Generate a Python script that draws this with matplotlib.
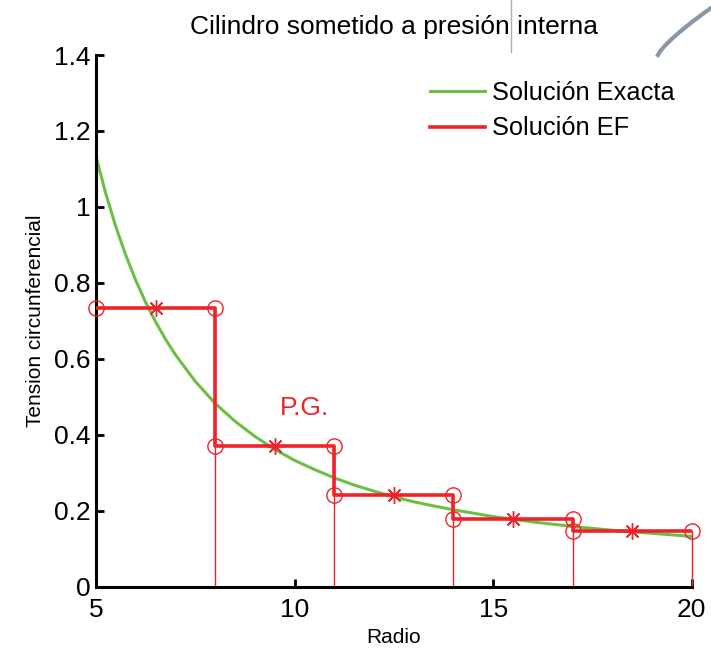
import matplotlib
matplotlib.use('Agg')
import matplotlib.pyplot as plt
from matplotlib.lines import Line2D
import numpy as np

plt.rcParams['font.family'] = ['Liberation Sans', 'DejaVu Sans']

# exact hoop stress sampled along the radius
r_exact = [5, 5.25, 5.5, 5.75, 6, 6.25, 6.5, 6.75, 7, 7.5, 8, 8.5, 9, 9.5, 10,
           10.5, 11, 11.5, 12, 12.5, 13, 13.5, 14, 14.5, 15, 15.5, 16, 16.5,
           17, 17.5, 18, 18.5, 19, 19.5, 20]
s_exact = [1.133, 1.034, 0.948, 0.873, 0.807, 0.749, 0.698, 0.652, 0.611, 0.541,
           0.483, 0.436, 0.396, 0.362, 0.333, 0.309, 0.287, 0.268, 0.252, 0.237,
           0.224, 0.213, 0.203, 0.194, 0.185, 0.178, 0.171, 0.165, 0.159, 0.154,
           0.149, 0.145, 0.141, 0.137, 0.133]

# finite element results: node radii and constant stress per element
nodes = [5, 8, 11, 14, 17, 20]
s_elem = [0.734, 0.372, 0.242, 0.178, 0.147]
gauss_pts = [6.5, 9.5, 12.5, 15.5, 18.5]

green = '#6cbf45'
red = '#ee2229'

fig = plt.figure(figsize=(7.11, 6.55), dpi=100)
ax = fig.add_axes([0.135, 0.104, 0.838, 0.812])

ax.plot(r_exact, s_exact, color=green, lw=2.2, label='Solución Exacta', zorder=2)

# step line for the FE solution
xs, ys = [], []
for i, s in enumerate(s_elem):
    xs += [nodes[i], nodes[i + 1]]
    ys += [s, s]
ax.plot(xs, ys, color=red, lw=2.6, label='Solución EF', zorder=3)

# thin verticals from the axis up to each node value
for i, x in enumerate(nodes):
    if i == 0:
        top = s_elem[0]
    elif i == len(s_elem):
        top = s_elem[-1]
    else:
        top = max(s_elem[i - 1], s_elem[i])
    ax.plot([x, x], [0, top], color=red, lw=1.0, zorder=2, clip_on=False)

# circles at element ends
for i, s in enumerate(s_elem):
    ax.plot([nodes[i], nodes[i + 1]], [s, s], ls='none', marker='o', ms=11,
            mfc='none', mec=red, mew=1.0, zorder=4, clip_on=False)

# asterisks at Gauss points
ax.plot(gauss_pts, s_elem, ls='none', marker=(8, 2, 0), ms=12, color=red,
        mew=1.0, zorder=4)

ax.text(10.25, 0.472, 'P.G.', color=red, fontsize=19, ha='center', va='center')

ax.set_xlim(5, 20)
ax.set_ylim(0, 1.4)
ax.set_xticks([5, 10, 15, 20])
ax.set_xticklabels(['5', '10', '15', '20'])
ax.set_yticks([0, 0.2, 0.4, 0.6, 0.8, 1.0, 1.2, 1.4])
ax.set_yticklabels(['0', '0.2', '0.4', '0.6', '0.8', '1', '1.2', '1.4'])
ax.tick_params(direction='in', length=6, width=2, labelsize=19)
ax.tick_params(axis='x', pad=8)
ax.tick_params(axis='y', pad=4)
for side in ['top', 'right']:
    ax.spines[side].set_visible(False)
for side in ['left', 'bottom']:
    ax.spines[side].set_linewidth(2.2)

ax.set_title('Cilindro sometido a presión interna', fontsize=19, pad=15)
ax.set_xlabel('Radio', fontsize=15, labelpad=4)
ax.set_ylabel('Tension circunferencial', fontsize=15, labelpad=6)

ax.legend(loc='upper left', bbox_to_anchor=(430 / 711, 1 - 81 / 655),
          bbox_transform=fig.transFigure, frameon=False, fontsize=18.3,
          borderpad=0, borderaxespad=0, handlelength=2.15, handletextpad=0.3,
          labelspacing=0.45)

# stray gray marks along the top edge
fig.add_artist(Line2D([511 / 711, 511 / 711], [1.0, 1 - 52 / 655],
                      color='#b0b0b0', lw=1.0))
t = np.linspace(0, 1, 30)
arc_x = 658 + 53 * t
arc_y = 55 - 47 * t ** 0.8
fig.add_artist(Line2D(arc_x / 711, 1 - arc_y / 655, color='#8a97a6', lw=3.0))

fig.savefig('out.png', dpi=100)
